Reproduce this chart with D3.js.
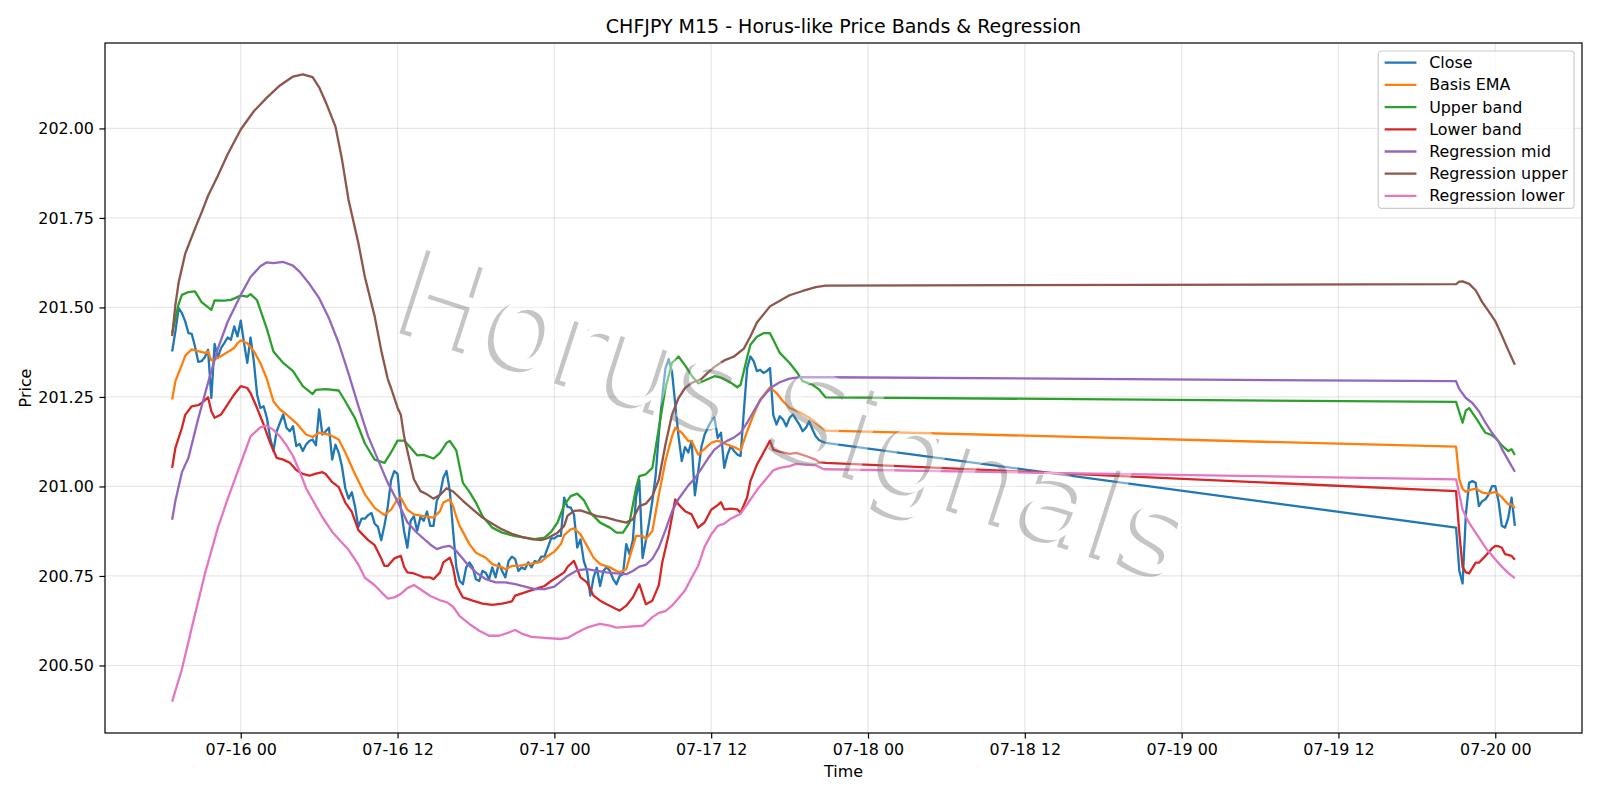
<!DOCTYPE html>
<html>
<head>
<meta charset="utf-8">
<script src="https://cdn.jsdelivr.net/npm/d3@7"></script>
<style>
  html, body { margin: 0; padding: 0; background: #fff; }
  svg { display: block; font-family: "DejaVu Sans", sans-serif; }
</style>
</head>
<body>
<svg id="chart" width="1600" height="800"></svg>
<script>
// every point is [hours since 2025-07-16 00:00, price]
const closePrice = [
  [-5.25,201.377],[-5,201.433],[-4.75,201.498],[-4.5,201.484],[-4.25,201.461],[-4,201.428],[-3.75,201.426],[-3.5,201.391],
  [-3.25,201.348],[-3,201.35],[-2.75,201.361],[-2.5,201.382],[-2.25,201.247],[-2,201.398],[-1.75,201.361],[-1.5,201.387],
  [-1.25,201.401],[-1,201.416],[-0.75,201.41],[-0.5,201.447],[-0.25,201.419],[0,201.463],[0.25,201.401],[0.5,201.345],
  [0.75,201.416],[1,201.35],[1.25,201.257],[1.5,201.219],[1.75,201.224],[2,201.192],[2.25,201.136],[2.5,201.099],
  [2.75,201.154],[3,201.178],[3.25,201.201],[3.5,201.164],[3.75,201.154],[4,201.168],[4.25,201.113],[4.5,201.119],
  [4.75,201.099],[5,201.117],[5.25,201.127],[5.5,201.131],[5.75,201.115],[6,201.215],[6.25,201.145],[6.5,201.154],
  [6.75,201.164],[7,201.075],[7.25,201.117],[7.5,201.094],[7.75,201.055],[8,200.995],[8.25,200.966],[8.5,200.984],
  [8.75,200.943],[9,200.887],[9.25,200.91],[9.5,200.91],[9.75,200.92],[10,200.926],[10.25,200.896],[10.5,200.887],
  [10.75,200.85],[11,200.892],[11.25,200.943],[11.5,201.017],[11.75,201.043],[12,201.035],[12.25,200.94],[12.5,200.875],
  [12.75,200.829],[13,200.904],[13.25,200.917],[13.5,200.876],[13.75,200.915],[14,200.904],[14.25,200.93],[14.5,200.89],
  [14.75,200.89],[15,200.96],[15.25,200.978],[15.5,201.024],[15.75,201.043],[16,200.987],[16.25,200.876],[16.5,200.774],
  [16.75,200.736],[17,200.727],[17.25,200.774],[17.5,200.788],[17.75,200.774],[18,200.741],[18.25,200.736],[18.5,200.764],
  [18.75,200.759],[19,200.741],[19.25,200.774],[19.5,200.746],[19.75,200.785],[20,200.764],[20.25,200.746],[20.5,200.792],
  [20.75,200.804],[21,200.797],[21.25,200.764],[21.5,200.774],[21.75,200.769],[22,200.788],[22.25,200.774],[22.5,200.792],
  [22.75,200.788],[23,200.804],[23.25,200.805],[23.5,200.83],[23.75,200.855],[24,200.855],[24.25,200.862],[24.5,200.862],
  [24.75,200.969],[25,200.943],[25.25,200.941],[25.5,200.922],[25.75,200.829],[26,200.852],[26.25,200.792],[26.5,200.764],
  [26.75,200.695],[27,200.746],[27.25,200.773],[27.5,200.722],[27.75,200.764],[28,200.775],[28.25,200.764],[28.5,200.741],
  [28.75,200.727],[29,200.75],[29.25,200.755],[29.5,200.839],[29.75,200.811],[30,200.848],[30.25,200.969],[30.5,201.017],
  [30.75,200.8],[31,200.848],[31.25,200.9],[31.5,200.96],[31.75,201.03],[32,201.15],[32.25,201.25],[32.5,201.33],
  [32.75,201.356],[33,201.32],[33.25,201.23],[33.5,201.14],[33.75,201.071],[34,201.11],[34.25,201.095],[34.5,201.127],
  [34.75,200.975],[35,201.04],[35.25,201.11],[35.5,201.145],[35.75,201.165],[36,201.182],[36.25,201.192],[36.5,201.136],
  [36.75,201.15],[37,201.052],[37.25,201.089],[37.5,201.113],[37.75,201.099],[38,201.089],[38.25,201.085],[38.5,201.21],
  [38.75,201.33],[39,201.363],[39.25,201.35],[39.5,201.322],[39.75,201.326],[40,201.317],[40.25,201.322],[40.5,201.331],
  [40.75,201.2],[41,201.173],[41.25,201.196],[41.5,201.187],[41.75,201.168],[42,201.192],[42.25,201.201],[42.5,201.187],
  [42.75,201.173],[43,201.154],[43.25,201.164],[43.5,201.182],[43.75,201.159],[44,201.14],[44.25,201.13],[44.5,201.125],
  [44.75,201.122],
  [93,200.885],[93.25,200.764],[93.5,200.729],[93.75,200.922],[94,201.01],[94.25,201.015],[94.5,201.01],[94.75,200.945],
  [95,200.959],[95.25,200.964],[95.5,200.978],[95.75,201.001],[96,201.001],[96.25,200.959],[96.5,200.89],[96.75,200.885],
  [97,200.913],[97.25,200.969],[97.5,200.89]
];

const basisEma = [
  [-5.25,201.243],[-5,201.294],[-4.5,201.34],[-4.25,201.365],[-3.75,201.383],[-3.25,201.378],[-2.75,201.373],[-2.5,201.377],
  [-2.25,201.352],[-1.75,201.359],[-1.25,201.37],[-0.5,201.387],[-0.25,201.4],[0,201.408],[0.5,201.4],[1,201.378],
  [1.5,201.345],[2,201.3],[2.5,201.238],[3,201.215],[3.5,201.201],[4.25,201.177],[5,201.145],[5.5,201.138],[6,201.15],
  [6.75,201.145],[7.5,201.131],[8,201.095],[8.75,201.034],[9.5,200.978],[10.25,200.94],[11,200.92],[11.5,200.935],
  [12,200.965],[12.25,200.968],[12.75,200.935],[13.25,200.922],[14,200.917],[14.75,200.913],[15.25,200.931],[15.5,200.955],
  [16,200.964],[16.25,200.945],[16.5,200.915],[16.75,200.89],[17.5,200.839],[18,200.815],[18.75,200.801],[19.25,200.783],
  [20,200.774],[20.25,200.769],[20.75,200.778],[21.25,200.778],[22,200.783],[22.5,200.786],[23,200.79],[23.5,200.806],
  [24,200.818],[24.5,200.839],[24.75,200.864],[25.25,200.88],[25.5,200.883],[26,200.866],[26.5,200.834],[27,200.801],
  [27.5,200.783],[28.25,200.774],[28.75,200.764],[29,200.76],[29.5,200.769],[29.75,200.801],[30.25,200.862],[30.75,200.862],
  [31,200.853],[31.5,200.876],[32,200.978],[32.5,201.071],[33,201.14],[33.25,201.164],[33.75,201.15],[34.25,201.127],
  [34.5,201.127],[35,201.089],[35.5,201.105],[36,201.122],[36.5,201.128],[37,201.12],[37.75,201.11],[38.25,201.101],
  [38.75,201.154],[39.25,201.201],[39.75,201.243],[40.5,201.277],[41,201.261],[41.5,201.238],[42,201.219],[42.75,201.208],
  [43.5,201.192],[44,201.178],[44.75,201.156],
  [93,201.111],[93.25,201.02],[93.5,200.993],[93.75,200.985],[94,200.99],[94.5,200.994],[95,200.983],[95.5,200.98],
  [96,200.985],[96.5,200.97],[97,200.95],[97.25,200.95],[97.5,200.939]
];

const upperBand = [
  [-5.25,201.428],[-4.75,201.51],[-4.5,201.535],[-4,201.543],[-3.5,201.545],[-3,201.515],[-2.25,201.493],[-2,201.52],
  [-1.25,201.519],[-0.75,201.521],[0,201.533],[0.5,201.53],[0.75,201.537],[1.25,201.52],[2,201.44],[2.5,201.377],
  [3.25,201.345],[4,201.322],[4.75,201.28],[5.5,201.258],[5.75,201.27],[6.5,201.272],[7.5,201.268],[8,201.238],
  [8.75,201.19],[9.5,201.12],[10.25,201.075],[11,201.066],[11.5,201.095],[12,201.128],[12.5,201.128],[13,201.108],
  [13.5,201.087],[14,201.088],[14.75,201.078],[15.25,201.094],[15.75,201.122],[16,201.127],[16.5,201.1],[17,201.01],
  [17.5,200.985],[18,200.955],[18.5,200.917],[19.25,200.885],[20,200.871],[21,200.861],[21.75,200.857],[22.5,200.853],
  [23.25,200.857],[23.75,200.873],[24.25,200.9],[24.75,200.948],[25.25,200.973],[25.75,200.98],[26.25,200.962],
  [26.75,200.927],[27.5,200.899],[28.25,200.885],[28.75,200.871],[29.25,200.871],[29.75,200.899],[30.25,200.996],
  [30.5,201.029],[31,201.034],[31.5,201.052],[32,201.164],[32.5,201.275],[33,201.345],[33.5,201.363],[34,201.338],
  [34.5,201.31],[35,201.288],[35.5,201.296],[36.25,201.308],[36.75,201.304],[37.5,201.29],[38,201.277],[38.25,201.284],
  [38.75,201.36],[39,201.396],[39.5,201.418],[40,201.428],[40.5,201.428],[40.75,201.41],[41.25,201.373],[42,201.345],
  [42.5,201.322],[43,201.294],[43.75,201.284],[44.25,201.271],[44.75,201.249],
  [93,201.236],[93.5,201.178],[93.75,201.212],[94,201.219],[94.5,201.192],[95.25,201.15],[95.75,201.143],[96,201.136],
  [96.5,201.115],[97,201.099],[97.25,201.104],[97.5,201.088]
];

const lowerBand = [
  [-5.25,201.052],[-5,201.108],[-4.5,201.164],[-4.25,201.2],[-3.75,201.224],[-3.25,201.227],[-3,201.233],[-2.5,201.249],
  [-2.25,201.21],[-2,201.192],[-1.5,201.201],[-1,201.229],[-0.5,201.257],[0,201.28],[0.5,201.275],[0.75,201.261],
  [1.25,201.219],[1.75,201.173],[2.25,201.122],[2.75,201.08],[3.25,201.075],[3.75,201.066],[4.25,201.046],[4.75,201.035],
  [5.25,201.03],[5.75,201.036],[6.25,201.04],[6.5,201.035],[7,201.012],[7.5,200.998],[8,200.955],[8.5,200.929],
  [9,200.878],[9.75,200.85],[10.25,200.836],[10.75,200.799],[11,200.778],[11.25,200.778],[11.75,200.799],[12.25,200.806],
  [12.5,200.775],[12.75,200.76],[13.25,200.757],[13.75,200.75],[14,200.746],[14.5,200.746],[14.75,200.741],[15.25,200.76],
  [15.5,200.788],[16,200.801],[16.25,200.774],[16.5,200.725],[17,200.69],[17.75,200.681],[18.5,200.673],[19.25,200.669],
  [20,200.673],[20.75,200.679],[21,200.695],[21.75,200.704],[22.5,200.713],[23.25,200.722],[23.75,200.736],[24.25,200.748],
  [24.75,200.76],[25,200.775],[25.5,200.792],[25.75,200.769],[26,200.746],[26.5,200.732],[27,200.695],[27.5,200.681],
  [28,200.671],[28.5,200.662],[29,200.653],[29.5,200.667],[30,200.69],[30.5,200.727],[30.75,200.699],[31,200.671],
  [31.5,200.681],[32,200.725],[32.25,200.787],[32.75,200.866],[33.25,200.964],[33.5,200.95],[34,200.931],[34.5,200.922],
  [35,200.885],[35.5,200.9],[36,200.935],[36.5,200.948],[36.75,200.956],[37,200.936],[37.5,200.938],[38,200.936],
  [38.25,200.927],[38.75,200.969],[39,201.015],[39.5,201.061],[40,201.094],[40.5,201.128],[40.75,201.103],[41.25,201.097],
  [42,201.091],[42.5,201.094],[43.25,201.085],[44,201.075],[44.25,201.068],[44.75,201.066],
  [93,200.987],[93.25,200.87],[93.5,200.775],[93.75,200.76],[94,200.757],[94.5,200.787],[94.75,200.787],[95.25,200.806],
  [95.75,200.827],[96,200.834],[96.25,200.833],[96.5,200.829],[96.75,200.811],[97.25,200.806],[97.5,200.795]
];

const regressionMid = [
  [-5.25,200.907],[-5,200.96],[-4.5,201.04],[-4,201.08],[-3.25,201.19],[-2.5,201.29],[-1.75,201.385],[-1,201.46],
  [0,201.535],[0.75,201.585],[1.5,201.615],[2,201.626],[2.5,201.624],[3.25,201.627],[4,201.617],[4.5,201.6],
  [5.25,201.566],[6,201.526],[6.75,201.47],[7.5,201.4],[8.25,201.315],[9,201.225],[9.75,201.14],[10.5,201.075],
  [11.25,201.01],[12,200.958],[12.75,200.9],[13.5,200.87],[14.5,200.838],[15,200.825],[15.5,200.831],[16,200.834],
  [16.5,200.82],[17.25,200.787],[18,200.76],[18.75,200.741],[19.5,200.732],[20.25,200.732],[21,200.727],[21.75,200.72],
  [22.5,200.713],[23.25,200.713],[24,200.72],[24.5,200.735],[25,200.75],[25.75,200.766],[26.5,200.769],[27.25,200.764],
  [28,200.76],[28.75,200.757],[29.5,200.755],[30,200.764],[30.5,200.776],[31,200.781],[31.5,200.798],[32,200.83],
  [32.5,200.878],[33,200.93],[33.5,200.965],[34.25,201.003],[34.75,201.022],[35.25,201.05],[35.75,201.078],[36.25,201.103],
  [36.75,201.117],[37.25,201.128],[37.75,201.137],[38.25,201.15],[38.75,201.178],[39.25,201.21],[39.75,201.24],
  [40.25,201.263],[40.75,201.28],[41.25,201.291],[42,201.301],[42.75,201.305],[43.5,201.305],[44.75,201.305],
  [93,201.294],[93.25,201.272],[93.75,201.247],[94.25,201.233],[94.75,201.21],[95.25,201.178],[95.75,201.15],
  [96.25,201.126],[96.5,201.105],[97,201.073],[97.5,201.041]
];

const regressionUpper = [
  [-5.25,201.42],[-5,201.507],[-4.75,201.57],[-4.25,201.65],[-3.5,201.72],[-3,201.765],[-2.5,201.812],[-1.75,201.868],
  [-1,201.928],[0,201.997],[1,202.048],[2,202.086],[3,202.12],[4,202.145],[4.75,202.151],[5.5,202.143],[6,202.115],
  [6.5,202.074],[7.25,202.005],[7.75,201.913],[8.25,201.8],[9,201.68],[9.5,201.585],[10.25,201.475],[10.75,201.38],
  [11.25,201.3],[11.5,201.275],[12,201.22],[12.25,201.2],[12.5,201.14],[12.75,201.1],[13,201.06],[13.25,201.02],
  [13.75,200.987],[14.25,200.978],[14.75,200.966],[15.25,200.976],[15.75,200.995],[16.25,200.986],[17,200.96],
  [17.75,200.936],[18.5,200.913],[19.25,200.896],[20,200.88],[20.75,200.868],[21.5,200.859],[22.25,200.853],[23,200.85],
  [23.5,200.856],[24.25,200.871],[24.75,200.89],[25,200.918],[25.5,200.932],[26,200.933],[26.5,200.927],[27.25,200.917],
  [28,200.913],[28.75,200.905],[29.5,200.899],[30,200.908],[30.5,200.945],[31,200.952],[31.5,200.973],[32,201.02],
  [32.5,201.117],[33,201.2],[33.5,201.247],[34,201.275],[34.5,201.289],[35.25,201.3],[35.75,201.318],[36.25,201.334],
  [37,201.352],[37.75,201.363],[38.5,201.385],[39,201.419],[39.5,201.458],[40.5,201.503],[41.25,201.519],[42,201.534],
  [43,201.546],[44,201.557],[44.75,201.561],
  [93,201.565],[93.25,201.572],[93.5,201.573],[94,201.566],[94.5,201.548],[95,201.515],[95.5,201.489],[96,201.462],
  [96.5,201.422],[97,201.38],[97.5,201.34]
];

const regressionLower = [
  [-5.25,200.399],[-4.5,200.49],[-3.75,200.605],[-2.75,200.755],[-1.75,200.885],[-1,200.965],[-0.25,201.04],[0.25,201.09],
  [0.75,201.14],[1.5,201.165],[2,201.17],[2.5,201.158],[3,201.14],[3.5,201.115],[4,201.085],[4.5,201.043],[5,200.995],
  [5.5,200.962],[6.25,200.914],[7,200.873],[7.75,200.843],[8.25,200.823],[9,200.782],[9.5,200.745],[10.25,200.724],
  [10.75,200.705],[11.25,200.687],[11.75,200.69],[12.25,200.7],[12.75,200.716],[13.25,200.725],[13.75,200.713],
  [14.5,200.694],[15.25,200.682],[15.75,200.677],[16.25,200.664],[16.75,200.638],[17.5,200.616],[18.25,200.597],
  [19,200.583],[19.75,200.583],[20.5,200.592],[21,200.599],[21.5,200.589],[22.25,200.58],[23.25,200.577],[24.5,200.574],
  [25,200.577],[25.75,200.592],[26.5,200.606],[27,200.611],[27.5,200.616],[28.25,200.611],[28.75,200.606],[29.5,200.608],
  [30.75,200.611],[31,200.618],[31.5,200.635],[32,200.647],[32.5,200.652],[33,200.667],[33.5,200.688],[34,200.71],
  [34.5,200.745],[35,200.778],[35.5,200.832],[36,200.866],[36.5,200.89],[37,200.896],[37.5,200.91],[38.25,200.924],
  [38.75,200.95],[39.5,200.99],[40.25,201.023],[40.75,201.045],[41.25,201.052],[42,201.057],[42.5,201.063],[43.25,201.061],
  [44,201.059],[44.5,201.05],[44.75,201.048],
  [93,201.02],[93.25,200.978],[93.5,200.935],[94,200.898],[94.75,200.857],[95.25,200.829],[96,200.797],[96.5,200.776],
  [97,200.758],[97.5,200.744]
];

const seriesNames = ["Close", "Basis EMA", "Upper band", "Lower band", "Regression mid", "Regression upper", "Regression lower"];
const seriesColors = ["#1f77b4", "#ff7f0e", "#2ca02c", "#d62728", "#9467bd", "#8c564b", "#e377c2"];
const seriesData = [closePrice, basisEma, upperBand, lowerBand, regressionMid, regressionUpper, regressionLower];

const xTickHours = [0, 12, 24, 36, 48, 60, 72, 84, 96];
const yTickValues = [200.5, 200.75, 201.0, 201.25, 201.5, 201.75, 202.0];

const chartTitle = "CHFJPY M15 - Horus-like Price Bands & Regression";
const xLabel = "Time";
const yLabel = "Price";
const watermark = "Horus Signals";

// --- layout (matplotlib-like, fonts at ~114 dpi) ---
const T0 = Date.UTC(2025, 6, 16, 0, 0);
const toDate = h => new Date(T0 + h * 3600e3);
const box = { left: 105, right: 1582, top: 43, bottom: 733 };
const fs = 15.9;
const tick = 5.56;

const svg = d3.select('#chart');

const allPts = seriesData.flat();
const [h0, h1] = d3.extent(allPts, d => d[0]);
const [p0, p1] = d3.extent(allPts, d => d[1]);
const hPad = (h1 - h0) * 0.05, pPad = (p1 - p0) * 0.05;

const x = d3.scaleUtc()
  .domain([toDate(h0 - hPad), toDate(h1 + hPad)])
  .range([box.left, box.right]);
const y = d3.scaleLinear()
  .domain([p0 - pPad, p1 + pPad])
  .range([box.bottom, box.top]);

// grid
const grid = svg.append('g').attr('stroke', '#b0b0b0').attr('stroke-opacity', 0.3).attr('stroke-width', 1.2);
grid.selectAll('line.gx').data(xTickHours).join('line')
  .attr('x1', d => x(toDate(d))).attr('x2', d => x(toDate(d)))
  .attr('y1', box.top).attr('y2', box.bottom);
grid.selectAll('line.gy').data(yTickValues).join('line')
  .attr('class', 'gy')
  .attr('x1', box.left).attr('x2', box.right)
  .attr('y1', d => y(d)).attr('y2', d => y(d));

// lines
const lineGen = d3.line()
  .x(d => x(toDate(d[0])))
  .y(d => y(d[1]));

svg.append('defs').append('clipPath').attr('id', 'plotclip')
  .append('rect').attr('x', box.left).attr('y', box.top)
  .attr('width', box.right - box.left).attr('height', box.bottom - box.top);

const linesG = svg.append('g').attr('clip-path', 'url(#plotclip)');
seriesData.forEach((data, i) => {
  linesG.append('path')
    .datum(data)
    .attr('fill', 'none')
    .attr('stroke', seriesColors[i])
    .attr('stroke-width', 2.3)
    .attr('stroke-linejoin', 'round')
    .attr('stroke-linecap', 'butt')
    .attr('d', lineGen);
});

// watermark: white text with a soft grey shadow, drawn over the lines at low opacity
const wm = svg.append('g')
  .attr('transform', 'translate(797,414) rotate(18)')
  .attr('font-size', 120)
  .attr('text-anchor', 'middle')
  .attr('dominant-baseline', 'central')
  .attr('opacity', 0.42);
wm.append('text')
  .attr('x', -4.5).attr('y', 4.5)
  .attr('fill', '#767676')
  .text(watermark);
wm.append('text')
  .attr('fill', '#fff')
  .text(watermark);

// axes
const xAxis = svg.append('g')
  .attr('transform', `translate(0,${box.bottom})`)
  .call(d3.axisBottom(x)
    .tickValues(xTickHours.map(toDate))
    .tickFormat(d3.utcFormat('%m-%d %H'))
    .tickSize(tick).tickPadding(tick));
const yAxis = svg.append('g')
  .attr('transform', `translate(${box.left},0)`)
  .call(d3.axisLeft(y)
    .tickValues(yTickValues)
    .tickFormat(d3.format('.2f'))
    .tickSize(tick).tickPadding(tick));

for (const g of [xAxis, yAxis]) {
  g.attr('font-size', fs).attr('font-family', '"DejaVu Sans", sans-serif');
  g.select('.domain').remove();
  g.selectAll('.tick line').attr('stroke', '#000').attr('stroke-width', 1.2);
  g.selectAll('.tick text').attr('fill', '#000');
}

svg.append('rect')
  .attr('x', box.left).attr('y', box.top)
  .attr('width', box.right - box.left).attr('height', box.bottom - box.top)
  .attr('fill', 'none').attr('stroke', '#000').attr('stroke-width', 1.2);

// labels
svg.append('text')
  .attr('x', (box.left + box.right) / 2).attr('y', 33)
  .attr('text-anchor', 'middle').attr('font-size', 19)
  .text(chartTitle);
svg.append('text')
  .attr('x', (box.left + box.right) / 2).attr('y', 777)
  .attr('text-anchor', 'middle').attr('font-size', fs)
  .text(xLabel);
svg.append('text')
  .attr('transform', `translate(31,${(box.top + box.bottom) / 2}) rotate(-90)`)
  .attr('text-anchor', 'middle').attr('font-size', fs)
  .text(yLabel);

// legend
const rowPitch = 22.2;
const pad = 0.4 * fs, handleLen = 2 * fs, handlePad = 0.8 * fs;
const legend = svg.append('g');
const frame = legend.append('rect');
const items = legend.selectAll('g.item').data(seriesNames).join('g')
  .attr('class', 'item')
  .attr('transform', (d, i) => `translate(0,${11.7 + i * rowPitch})`);
items.append('line')
  .attr('x1', pad).attr('x2', pad + handleLen)
  .attr('stroke', (d, i) => seriesColors[i]).attr('stroke-width', 2.3);
const labels = items.append('text')
  .attr('x', pad + handleLen + handlePad)
  .attr('dy', '0.35em')
  .attr('font-size', fs)
  .text(d => d);
const textW = d3.max(labels.nodes(), n => n.getComputedTextLength());
const legendW = pad + handleLen + handlePad + textW + pad;
const legendH = 157.3;
frame.attr('width', legendW).attr('height', legendH).attr('rx', 3)
  .attr('fill', '#fff').attr('fill-opacity', 0.8)
  .attr('stroke', '#cccccc').attr('stroke-width', 1.2);
legend.attr('transform', `translate(${box.right - 0.5 * fs - legendW},51)`);
</script>
</body>
</html>
